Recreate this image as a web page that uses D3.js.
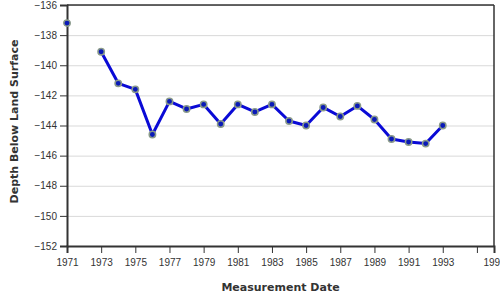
<!DOCTYPE html>
<meta charset="utf-8">
<style>
    body { margin: 0; background: #fff; }
    svg { font-family: "DejaVu Sans", sans-serif; }
    .grid line { stroke: #d9d9d9; stroke-width: 1; }
    .grid path { display: none; }
    .axis path, .axis line { stroke: #333; }
    .axis path { stroke-width: 2; }
    .axis text { fill: #333; font-size: 10px; }
    .line { fill: none; stroke: #0a0ad6; stroke-width: 3; stroke-linejoin: round; }
    .dot { fill: #0a1ab8; stroke: #8a9a8a; stroke-width: 1.5; }
    .label { fill: #333; font-size: 11px; font-weight: bold; }
</style>
<body></body>
<script src="https://d3js.org/d3.v7.min.js"></script>
<script>
    // measurement years and depth below land surface (ft), 1972 missing
    var years = [1971, 1972, 1973, 1974, 1975, 1976, 1977, 1978, 1979, 1980, 1981, 1982,
                 1983, 1984, 1985, 1986, 1987, 1988, 1989, 1990, 1991, 1992, 1993];
    var depths = [-137.2, null, -139.1, -141.2, -141.6, -144.6, -142.4, -142.9, -142.6, -143.9, -142.6, -143.1,
                  -142.6, -143.7, -144.0, -142.8, -143.4, -142.7, -143.6, -144.9, -145.1, -145.2, -144.0];
    var yTicks = [-136, -138, -140, -142, -144, -146, -148, -150, -152];
    var xTicks = [1971, 1973, 1975, 1977, 1979, 1981, 1983, 1985, 1987, 1989, 1991, 1993, 1995, 1996];

    var data = years.map(function (y, i) { return { year: y, depth: depths[i] }; });

    var margin = { top: 5, right: 6, bottom: 54, left: 67 },
        width = 500 - margin.left - margin.right,
        height = 300 - margin.top - margin.bottom;

    var xScale = d3.scaleLinear().domain([1971, 1996]).range([0, width]);
    var yScale = d3.scaleLinear().domain([-152, -136]).range([height, 0]);

    var svg = d3.select("body").append("svg")
        .attr("width", 500)
        .attr("height", 300)
        .append("g")
        .attr("transform", "translate(" + margin.left + "," + margin.top + ")");

    // horizontal grid
    svg.append("g")
        .attr("class", "grid")
        .call(d3.axisLeft(yScale).tickValues(yTicks).tickSize(-width).tickFormat(""));

    // frame on top and right
    svg.append("line").attr("x1", 0).attr("x2", width).attr("y1", 0).attr("y2", 0)
        .attr("stroke", "#333").attr("stroke-width", 1.5);
    svg.append("line").attr("x1", width).attr("x2", width).attr("y1", 0).attr("y2", height)
        .attr("stroke", "#333").attr("stroke-width", 1.5);

    svg.append("g")
        .attr("class", "x axis")
        .attr("transform", "translate(0," + height + ")")
        .call(d3.axisBottom(xScale).tickValues(xTicks).tickSizeOuter(0).tickSize(7).tickPadding(6)
            .tickFormat(function (d) { return d === 1995 ? "" : d; }));

    svg.append("g")
        .attr("class", "y axis")
        .call(d3.axisLeft(yScale).tickValues(yTicks).tickSizeOuter(0).tickSize(7).tickPadding(3));

    svg.append("text")
        .attr("class", "label")
        .attr("transform", "rotate(-90)")
        .attr("x", -height / 2 + 4)
        .attr("y", 14 - margin.left)
        .attr("dy", "0.35em")
        .style("text-anchor", "middle")
        .text("Depth Below Land Surface");

    svg.append("text")
        .attr("class", "label")
        .attr("x", width / 2)
        .attr("y", height + 41)
        .attr("dy", "0.35em")
        .style("text-anchor", "middle")
        .text("Measurement Date");

    var line = d3.line()
        .defined(function (d) { return d.depth !== null; })
        .x(function (d) { return xScale(d.year); })
        .y(function (d) { return yScale(d.depth); });

    svg.append("path")
        .datum(data)
        .attr("class", "line")
        .attr("d", line);

    svg.selectAll(".dot")
        .data(data.filter(function (d) { return d.depth !== null; }))
        .enter().append("circle")
        .attr("class", "dot")
        .attr("cx", function (d) { return xScale(d.year); })
        .attr("cy", function (d) { return yScale(d.depth); })
        .attr("r", 3.2);
</script>
